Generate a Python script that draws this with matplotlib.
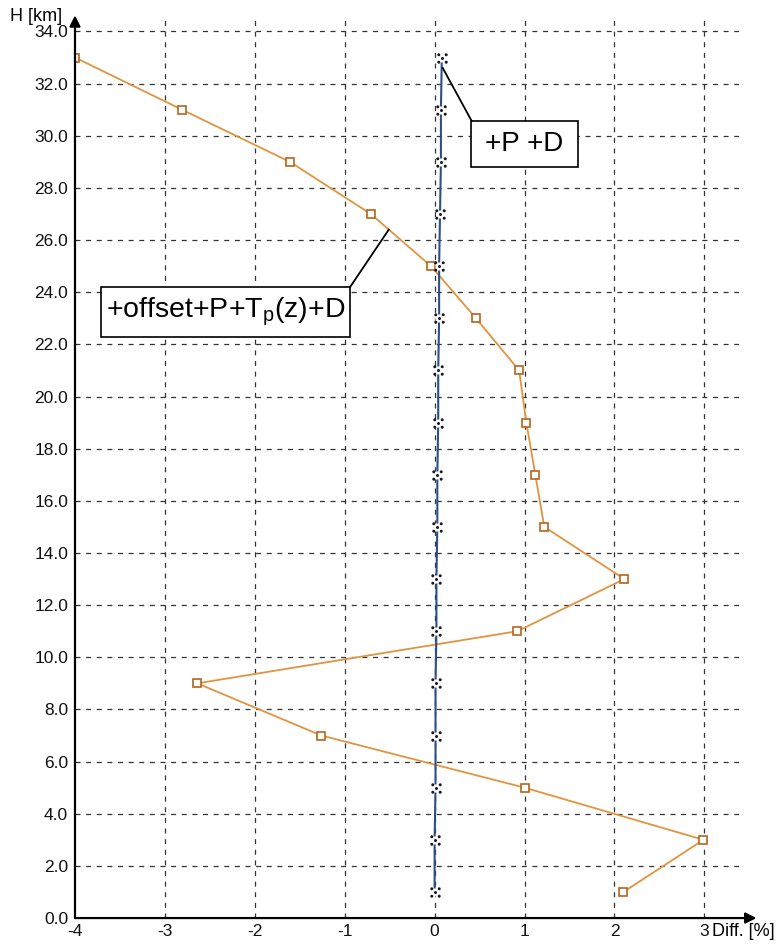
import matplotlib
matplotlib.use("Agg")
import matplotlib.pyplot as plt
from matplotlib.patches import Rectangle
from matplotlib.path import Path

plt.rcParams['font.family'] = ['Liberation Sans', 'DejaVu Sans']

heights = [1, 3, 5, 7, 9, 11, 13, 15, 17, 19, 21, 23, 25, 27, 29, 31, 33]
diff_full = [2.10, 2.99, 1.00, -1.26, -2.64, 0.92, 2.11, 1.22, 1.12, 1.02,
             0.94, 0.46, -0.04, -0.71, -1.61, -2.81, -4.00]
diff_pd = [0.00, 0.00, 0.01, 0.01, 0.01, 0.02, 0.02, 0.03, 0.03, 0.04,
           0.04, 0.05, 0.05, 0.06, 0.07, 0.07, 0.08]
x_ticks = [-4, -3, -2, -1, 0, 1, 2, 3]
y_ticks = [0, 2, 4, 6, 8, 10, 12, 14, 16, 18, 20, 22, 24, 26, 28, 30, 32, 34]

# dotted square marker: four corner dots plus a centre dot
dots = [Path.circle((cx, cy), 0.4) for cx, cy in
        [(-1, -1), (1, -1), (-1, 1), (1, 1), (0, 0)]]
dot_marker = Path.make_compound_path(*dots)

fig = plt.figure(figsize=(7.78, 9.44), dpi=100)
ax = fig.add_axes([0.0964, 0.0275, 0.854, 0.953])
ax.set_xlim(-4, 3.39)
ax.set_ylim(0, 34.5)

for s in ax.spines.values():
    s.set_visible(False)

ax.set_xticks(x_ticks)
ax.set_yticks(y_ticks)
ax.set_xticklabels([str(v) for v in x_ticks])
ax.set_yticklabels([f"{v:.1f}" for v in y_ticks])
ax.tick_params(length=0, labelsize=12.5, colors='#111111')
ax.tick_params(axis='y', pad=5)
ax.tick_params(axis='x', pad=4)

grid_kw = dict(color='#333333', lw=0.9, dashes=(4, 4.5), zorder=1)
for v in x_ticks[1:]:
    ax.axvline(v, **grid_kw)
for v in y_ticks[1:]:
    ax.axhline(v, **grid_kw)

# axes with arrow heads
ax.annotate('', xy=(-4, 34.62), xytext=(-4, 0), xycoords='data',
            arrowprops=dict(arrowstyle='-|>', color='black', lw=1.6,
                            mutation_scale=16, shrinkA=0, shrinkB=0),
            annotation_clip=False, zorder=5)
ax.annotate('', xy=(3.58, 0), xytext=(-4, 0), xycoords='data',
            arrowprops=dict(arrowstyle='-|>', color='black', lw=1.6,
                            mutation_scale=16, shrinkA=0, shrinkB=0),
            annotation_clip=False, zorder=5)

# series
ax.plot(diff_full, heights, color='#e0943f', lw=1.3, zorder=3,
        marker='s', ms=5.5, mfc='white', mec='#b5651d', mew=1.2)
ax.plot(diff_pd, heights, color='#2c4f86', lw=1.5, zorder=3)
ax.plot(diff_pd, heights, ls='none', marker='s', ms=6, mfc='white',
        mec='none', zorder=4)
ax.plot(diff_pd, heights, ls='none', marker=dot_marker, ms=7.5,
        mfc='#151525', mec='none', zorder=5)

# labelled callouts
ax.add_patch(Rectangle((0.41, 28.80), 1.19, 1.78, fc='white', ec='black',
                       lw=1.2, zorder=6))
ax.text(1.0, 29.69, '+P +D', ha='center', va='center', fontsize=20, zorder=7)
ax.plot([0.41, 0.09], [30.58, 32.6], color='black', lw=1.3, zorder=6)

ax.add_patch(Rectangle((-3.71, 22.3), 2.77, 1.9, fc='white', ec='black',
                       lw=1.2, zorder=6))
ax.text(-2.325, 23.25, r'+offset+P+T$_\mathregular{p}$(z)+D', ha='center',
        va='center', fontsize=20.5, zorder=7)
ax.plot([-0.94, -0.51], [24.2, 26.4], color='black', lw=1.3, zorder=6)

fig.text(0.046, 0.983, 'H [km]', ha='center', va='center', fontsize=13)
fig.text(0.955, 0.013, 'Diff. [%]', ha='center', va='center', fontsize=13)

fig.savefig('out.png', dpi=100, facecolor='white')
